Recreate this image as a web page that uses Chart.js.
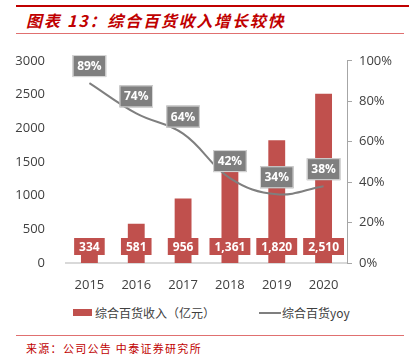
<!DOCTYPE html>
<html><head><meta charset="utf-8">
<script src="https://cdn.jsdelivr.net/npm/chart.js@4.4.0/dist/chart.umd.min.js"></script>
<style>
body{margin:0;width:409px;height:358px;position:relative;background:#fff;overflow:hidden;font-family:"Noto Sans CJK SC","Noto Sans",sans-serif;}
.abs{position:absolute;}
#title{left:26px;top:9px;font-size:16px;font-weight:bold;font-style:italic;color:#c00000;white-space:nowrap;line-height:22px;letter-spacing:1.8px;}
#src{left:26px;top:341px;font-size:11px;color:#c00000;white-space:nowrap;line-height:15px;letter-spacing:1.3px;}
.lg{font-size:12px;color:#404040;line-height:16px;white-space:nowrap;}
</style></head><body>
<div class="abs" style="left:16px;top:5px;width:393px;height:2px;background:#c00000"></div>
<div class="abs" id="title">图表 13：综合百货收入增长较快</div>
<div class="abs" style="left:16px;top:33px;width:388px;height:1px;background:#e07070"></div>
<div class="abs" style="left:0;top:40px;width:409px;height:255px"><canvas id="c" width="409" height="255"></canvas></div>
<div class="abs" style="left:73px;top:309px;width:19px;height:7px;background:#c0504d"></div>
<div class="abs lg" style="left:95px;top:305px">综合百货收入（亿元）</div>
<div class="abs" style="left:259px;top:312px;width:22px;height:2px;background:#7f7f7f"></div>
<div class="abs lg" style="left:282px;top:305px">综合百货yoy</div>
<div class="abs" style="left:16px;top:335px;width:388px;height:1px;background:#e07070"></div>
<div class="abs" id="src">来源：公司公告 中泰证券研究所</div>
<script>
const years = ["2015","2016","2017","2018","2019","2020"];
const revenue = [334, 581, 956, 1361, 1820, 2510];
const yoy = [89, 74, 64, 42, 34, 38];
const leftTicks = [0,500,1000,1500,2000,2500,3000];

const labelPlugin = {
  id:'lbls',
  afterDatasetsDraw(chart){
    const ctx = chart.ctx;
    ctx.save();
    ctx.font = 'bold 12px "Open Sans","Noto Sans",sans-serif';
    ctx.textAlign='center'; ctx.textBaseline='middle';
    const bm = chart.getDatasetMeta(0);
    const yb = chart.scales.y.getPixelForValue(0);
    bm.data.forEach((el,i)=>{
      const t = revenue[i].toLocaleString('en-US');
      const w = ctx.measureText(t).width + 10;
      const cy = yb - 16;
      ctx.fillStyle='#c0504d';
      ctx.fillRect(el.x - w/2, cy-9, w, 17);
      ctx.fillStyle='#fff';
      ctx.fillText(t, el.x, cy+0.5);
    });
    const lm = chart.getDatasetMeta(1);
    lm.data.forEach((el,i)=>{
      const t = yoy[i]+'%';
      const w = ctx.measureText(t).width + 9;
      const cy = el.y - 17;
      ctx.fillStyle='#7f7f7f';
      ctx.fillRect(el.x - w/2, cy-11, w, 22);
      ctx.strokeStyle='#d9d9d9'; ctx.lineWidth=1;
      ctx.strokeRect(el.x - w/2+0.5, cy-11+0.5, w-1, 21);
      ctx.fillStyle='#fff';
      ctx.fillText(t, el.x, cy+0.5);
    });
    ctx.restore();
  }
};

new Chart(document.getElementById('c'), {
  data:{
    labels: years,
    datasets:[
      {type:'bar', data: revenue, backgroundColor:'#c0504d', barPercentage:0.36, categoryPercentage:1, yAxisID:'y', order:2},
      {type:'line', data: yoy, borderColor:'#7f7f7f', borderWidth:2, pointRadius:0, tension:0.4, yAxisID:'y1', order:1}
    ]
  },
  options:{
    responsive:false, animation:false,
    layout:{padding:{top:10,left:0,right:0,bottom:0}},
    plugins:{legend:{display:false}, tooltip:{enabled:false}},
    scales:{
      x:{
        grid:{display:false},
        border:{display:true,color:'#d9d9d9',width:2},
        ticks:{color:'#404040',font:{size:13,family:'"Open Sans","Noto Sans",sans-serif'},padding:6},
        afterFit(s){s.height=32;}
      },
      y:{
        position:'left', min:0, max:3000,
        afterBuildTicks(s){s.ticks = leftTicks.map(v=>({value:v}));},
        grid:{display:false}, border:{display:false},
        ticks:{color:'#404040',font:{size:13,family:'"Open Sans","Noto Sans",sans-serif'},padding:13,callback:v=>String(v)},
        afterFit(s){s.width=66;}
      },
      y1:{
        position:'right', min:0, max:100,
        ticks:{stepSize:20,color:'#404040',font:{size:13,family:'"Open Sans","Noto Sans",sans-serif'},padding:7,callback:v=>v+'%'},
        grid:{drawOnChartArea:false,tickLength:5,color:'#a6a6a6'},
        border:{display:true,color:'#a6a6a6',width:1},
        afterFit(s){s.width=62;}
      }
    }
  },
  plugins:[labelPlugin]
});
</script>
</body></html>
